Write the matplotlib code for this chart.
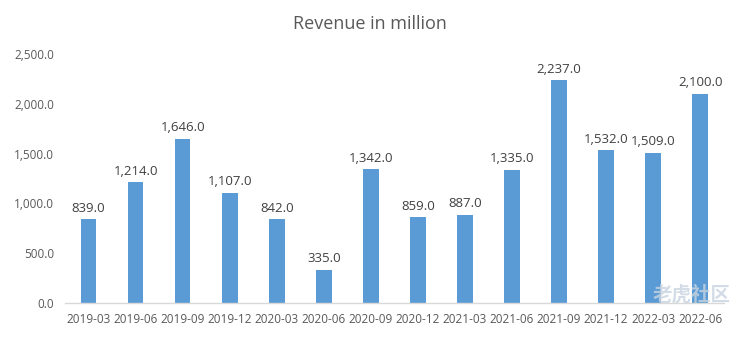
import matplotlib
matplotlib.use("Agg")
import matplotlib.pyplot as plt
from matplotlib.ticker import FuncFormatter

quarters = ["2019-03", "2019-06", "2019-09", "2019-12", "2020-03", "2020-06", "2020-09",
            "2020-12", "2021-03", "2021-06", "2021-09", "2021-12", "2022-03", "2022-06"]
revenue = [839.0, 1214.0, 1646.0, 1107.0, 842.0, 335.0, 1342.0,
           859.0, 887.0, 1335.0, 2237.0, 1532.0, 1509.0, 2100.0]
y_ticks = [0, 500, 1000, 1500, 2000, 2500]

plt.rcParams['font.family'] = ['Open Sans', 'Noto Sans CJK SC', 'DejaVu Sans']
text_color = "#595959"

fig = plt.figure(figsize=(7.4, 3.38), dpi=100)
ax = fig.add_axes([0.088, 0.1036, 0.890, 0.737])

x = range(len(quarters))
ax.bar(x, revenue, width=0.33, color="#5B9BD5", zorder=2)
for xi, v in zip(x, revenue):
    ax.text(xi, v + 45, f"{v:,.1f}", ha="center", va="bottom", fontsize=9.5, color="#404040")

ax.set_xlim(-0.5, len(quarters) - 0.5)
ax.set_ylim(0, 2500)
ax.set_yticks(y_ticks)
ax.yaxis.set_major_formatter(FuncFormatter(lambda v, p: f"{v:,.1f}"))
ax.set_xticks(list(x))
ax.set_xticklabels(quarters)
ax.tick_params(axis="both", length=0, labelsize=8.5, colors=text_color)
ax.tick_params(axis="y", pad=8)
ax.tick_params(axis="x", pad=7)
for side in ["top", "right", "left"]:
    ax.spines[side].set_visible(False)
ax.spines["bottom"].set_color("#D9D9D9")
ax.spines["bottom"].set_linewidth(1)

fig.text(0.5, 0.93, "Revenue in million", ha="center", va="center", fontsize=13, color=text_color)
fig.text(0.935, 0.125, "老虎社区", ha="center", va="center", fontsize=14,
         color="#C8D4E0", alpha=0.8, fontweight="bold")

fig.savefig("out.png", dpi=100)
